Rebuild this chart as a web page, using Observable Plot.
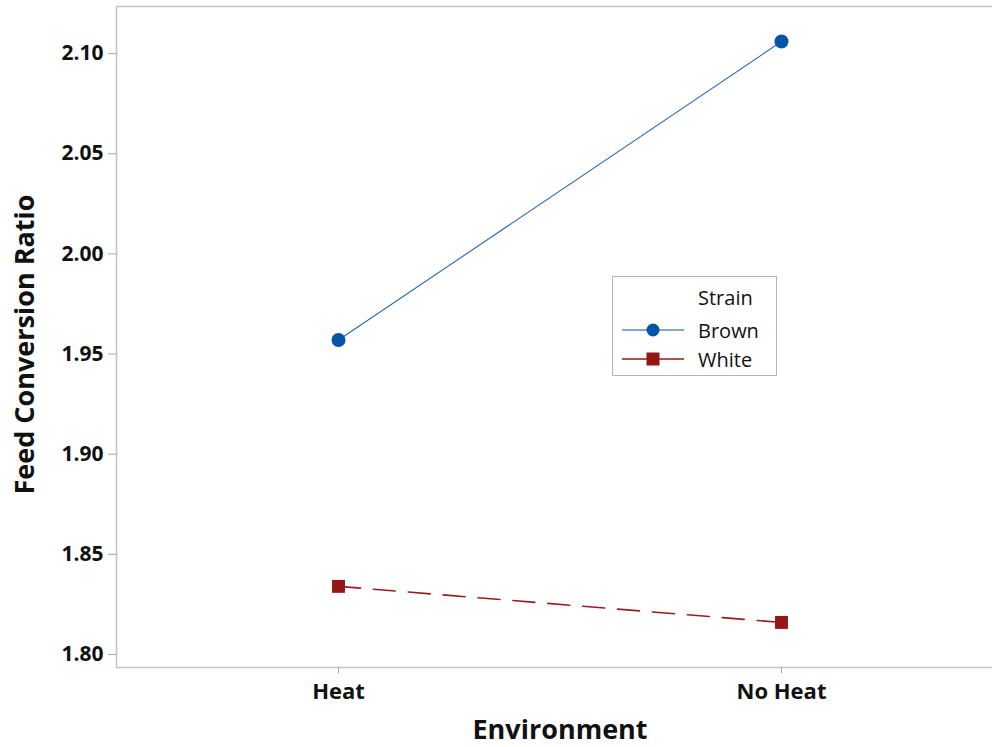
<!DOCTYPE html>
<html>
<head>
<meta charset="utf-8">
<script src="https://cdn.jsdelivr.net/npm/d3@7"></script>
<script src="https://cdn.jsdelivr.net/npm/@observablehq/plot@0.6"></script>
<style>
  html, body { margin: 0; padding: 0; background: #fff; overflow: hidden; }
  #wrap { position: relative; width: 992px; height: 747px; overflow: hidden; }
  #wrap svg { max-width: none !important; }
  #legend {
    position: absolute; left: 612px; top: 276px; width: 165px; height: 100px;
    border: 1px solid #b4b4b4; background: #fff; box-sizing: border-box;
    font-family: "Open Sans", sans-serif; font-size: 20px; font-weight: 500; color: #111;
  }
  #legend .row { position: absolute; left: 0; height: 24px; display: flex; align-items: center; }
  #legend .row span { position: absolute; left: 85px; white-space: nowrap; }
  #legend svg { position: absolute; left: 9px; }
</style>
</head>
<body>
<div id="wrap"></div>
<script>
// Mean feed conversion ratio by environment and strain
const environments = ["Heat", "No Heat"];
const brown = [1.957, 2.106];
const white = [1.834, 1.816];
const strains = ["Brown", "White"];
const yTicks = [1.80, 1.85, 1.90, 1.95, 2.00, 2.05, 2.10];

const colors = { Brown: "#0654a8", White: "#961616" };

const rows = [
  ...environments.map((e, i) => ({ env: e, strain: "Brown", fcr: brown[i] })),
  ...environments.map((e, i) => ({ env: e, strain: "White", fcr: white[i] }))
];
const brownRows = rows.filter(d => d.strain === "Brown");
const whiteRows = rows.filter(d => d.strain === "White");

const chart = Plot.plot({
  width: 1004,
  height: 747,
  marginTop: 6,
  marginBottom: 80,
  marginLeft: 116,
  marginRight: 1,
  style: { fontFamily: "Open Sans, sans-serif", background: "#fff", color: "#111", maxWidth: "none" },
  x: { type: "point", domain: environments, padding: 0.5 },
  y: { domain: [1.7935, 2.1235] },
  marks: [
    Plot.frame({ stroke: "#c2c2c2", strokeWidth: 1.5 }),
    Plot.axisY({
      ticks: yTicks, tickFormat: d3.format(".2f"), tickSize: 8, tickPadding: 5,
      stroke: "#a8a8a8", fontSize: 21, fontWeight: 700, label: null
    }),
    Plot.axisX({
      tickSize: 6, tickPadding: 10, stroke: "#a8a8a8",
      fontSize: 22, fontWeight: 700, label: null
    }),
    Plot.text(["Feed Conversion Ratio"], {
      frameAnchor: "left", dx: -91, dy: 7.5, rotate: -90,
      textAnchor: "middle", lineAnchor: "middle",
      text: d => d, fontSize: 27, fontWeight: 700, fill: "#111"
    }),
    Plot.text(["Environment"], {
      frameAnchor: "bottom", dy: 63, textAnchor: "middle", lineAnchor: "middle",
      text: d => d, fontSize: 27, fontWeight: 700, fill: "#111"
    }),
    Plot.line(brownRows, { x: "env", y: "fcr", stroke: "#2a66b4", strokeWidth: 1.1 }),
    Plot.line(whiteRows, {
      x: "env", y: "fcr", stroke: "#9b1c1c", strokeWidth: 1.6, strokeDasharray: "22,13"
    }),
    Plot.dot(brownRows, { x: "env", y: "fcr", r: 7, fill: colors.Brown, symbol: "circle" }),
    Plot.dot(whiteRows, { x: "env", y: "fcr", r: 7.3, fill: colors.White, symbol: "square" })
  ]
});

const wrap = document.getElementById("wrap");
wrap.appendChild(chart);

// Legend box inside the plotting area
const legend = document.createElement("div");
legend.id = "legend";
const title = document.createElement("div");
title.className = "row";
title.style.top = "8px";
title.innerHTML = "<span>Strain</span>";
legend.appendChild(title);
strains.forEach((s, i) => {
  const row = document.createElement("div");
  row.className = "row";
  row.style.top = (41 + i * 29) + "px";
  const c = colors[s];
  const sym = s === "Brown"
    ? `<circle cx="31" cy="12" r="6.5" fill="${c}"/>`
    : `<rect x="24.5" y="5.5" width="13" height="13" fill="${c}"/>`;
  const lw = s === "Brown" ? 1.1 : 1.6;
  row.innerHTML =
    `<svg width="64" height="24"><line x1="0" x2="62" y1="12" y2="12" stroke="${c}" stroke-width="${lw}"/>${sym}</svg><span>${s}</span>`;
  legend.appendChild(row);
});
wrap.appendChild(legend);
</script>
</body>
</html>
